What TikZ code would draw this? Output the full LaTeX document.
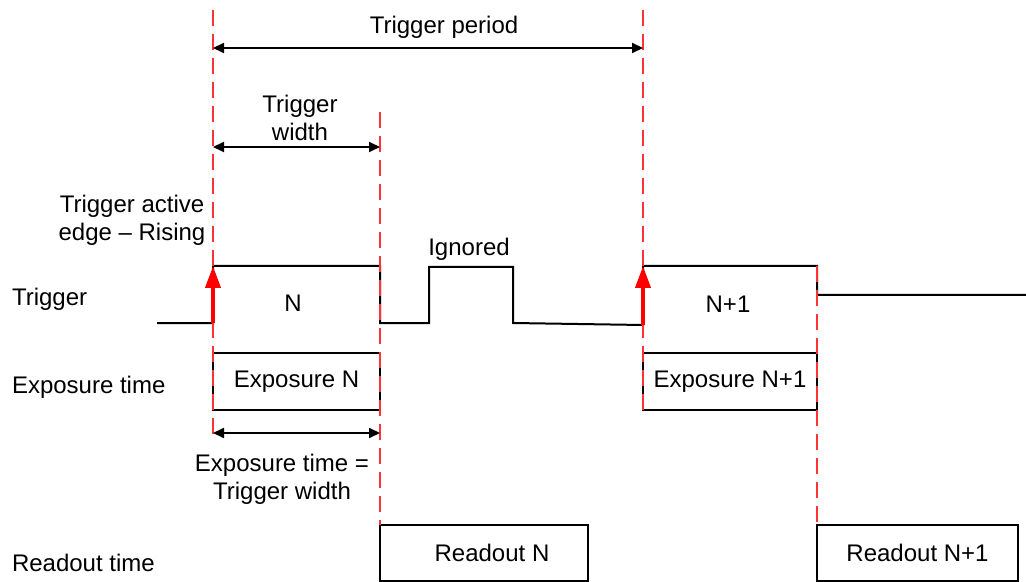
\documentclass[tikz,border=0pt]{standalone}
\usepackage{fontspec}
\setmainfont{Liberation Sans}
\usetikzlibrary{arrows.meta}

\begin{document}
\begin{tikzpicture}[
  x=0.5pt, y=-0.5pt,
  font=\fontsize{12}{14}\selectfont,
  every node/.style={align=center, inner sep=0pt, outer sep=0pt},
  box/.style    ={rectangle, draw=black, line width=1pt, minimum height=28.5pt},
  sig/.style    ={draw=black, line width=1pt},
  guide/.style  ={draw=red!80, line width=0.7pt, dash pattern=on 8pt off 4pt},
  edgeup/.style ={draw=red, line width=2pt, -{Triangle[length=11pt,width=7.5pt]}},
  dim/.style    ={draw=black, line width=1pt,
                  {Triangle[length=5.5pt,width=5pt]}-{Triangle[length=5.5pt,width=5pt]}},
  lbl/.style    ={anchor=west},
]
\useasboundingbox (0,0) rectangle (1026,582);

% --- Row labels ---
\node[lbl] (trig) at (12,299) {Trigger};
\node[lbl] (expt) at (12,387) {Exposure time};
\node[lbl] (rdt)  at (12,563) {Readout time};

% --- Exposure and readout boxes ---
\node[box, minimum width=83.5pt] (expN)  at (296.5,381.5) {Exposure N};
\node[box, minimum width=87pt]   (expN1) at (730,381.5)   {Exposure N+1};
\node[box, minimum width=104pt, minimum height=28pt]   (rdN)  at (484,553)   {\hspace*{8pt}Readout N};
\node[box, minimum width=100.5pt, minimum height=28pt] (rdN1) at (917.5,553) {Readout N+1};

% --- Trigger signal ---
\draw[sig] (157,323) -- (213,323) -- (213,266) -- (380,266) -- (380,323)
  -- (429,323) -- (429,267) -- (513,267) -- (513,323) -- (643,325)
  -- (643,266) -- (817,266) -- (817,295) -- (1026,295);
\node (n)   at (293,303) {N};
\node (n1)  at (728,304) {N+1};
\node (ign) at (469,249) {Ignored};

% --- Time markers ---
\coordinate (a0) at (213,10);  \coordinate (b0) at (213,437);
\coordinate (a1) at (380,112); \coordinate (b1) at (rdN.north west);
\coordinate (a2) at (643,10);  \coordinate (b2) at (expN1.south west);
\coordinate (a3) at (817,266); \coordinate (b3) at (rdN1.north west);
\draw[guide] (a0) -- (b0);
\draw[guide] (a1) -- (b1);
\draw[guide] (a2) -- (b2);
\draw[guide] (a3) -- (b3);

% --- Active edges ---
\coordinate (e0) at (213,323); \coordinate (f0) at (213,266);
\coordinate (e1) at (643,325); \coordinate (f1) at (643,266);
\draw[edgeup] (e0) -- (f0);
\draw[edgeup] (e1) -- (f1);
\node (edge) at (132,220) {Trigger active\\edge -- Rising};

% --- Dimensions ---
\coordinate (p0) at (213,48);  \coordinate (p1) at (643,48);
\coordinate (w0) at (213,147); \coordinate (w1) at (380,147);
\coordinate (x0) at (213,433); \coordinate (x1) at (380,433);
\draw[dim] (p0) -- (p1);
\draw[dim] (w0) -- (w1);
\draw[dim] (x0) -- (x1);
\node (period) at (444,27)  {Trigger period};
\node (twidth) at (300,118) {Trigger\\width};
\node (expeq)  at (282,479) {Exposure time =\\Trigger width};

\end{tikzpicture}
\end{document}
